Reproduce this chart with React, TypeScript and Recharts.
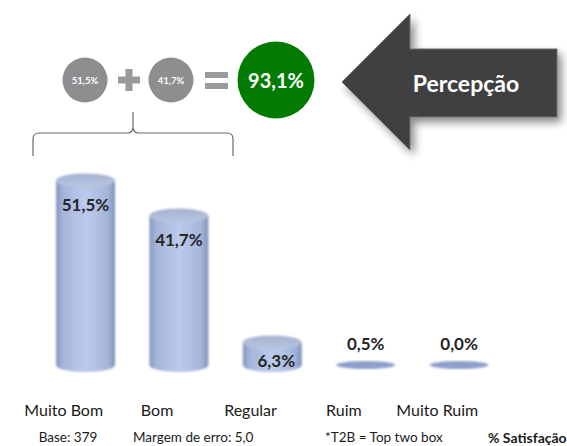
import React from 'react';
import { BarChart, Bar, XAxis, YAxis, LabelList } from 'recharts';

const categories = ['Muito Bom', 'Bom', 'Regular', 'Ruim', 'Muito Ruim'];
const values = [51.5, 41.7, 6.3, 0.5, 0.0];
const t2bParts = [51.5, 41.7];
const t2bTotal = 93.1;
const footerTexts = ['Base: 379', 'Margem de erro: 5,0', '*T2B = Top two box'];
const footerTitle = '% Satisfação';
const arrowText = 'Percepção';

const data = categories.map((c, i) => ({ name: c, value: values[i] }));

const W = 567;
const H = 446;
const FONT = 'Lato, "Open Sans", sans-serif';

const fmt = (v: number) => v.toFixed(1).replace('.', ',') + '%';

const Cylinder = (props: any) => {
  const { x, y, width, height, value } = props;
  const cx = x + width / 2;
  const rx = width / 2;
  if (value < 2) {
    const by = y + height;
    return (
      <ellipse cx={cx} cy={by} rx={rx} ry={4} fill="#8d9fcb" filter="url(#soft)" />
    );
  }
  const ry = 7;
  const top = y;
  const bot = y + height;
  const d = `M${x},${top} L${x},${bot} A${rx},${ry} 0 0 0 ${x + width},${bot} L${x + width},${top} Z`;
  return (
    <g filter="url(#soft)">
      <path d={d} fill="url(#cylBody)" />
      <ellipse cx={cx} cy={top} rx={rx} ry={ry} fill="url(#cylTop)" />
    </g>
  );
};

const ValueLabel = (props: any) => {
  const { x, y, width, height, value } = props;
  const cx = x + width / 2;
  const ly = value >= 2 ? y + Math.min(24, height * 0.8) : y - 20;
  const dx = value >= 2 && height < 40 ? 4 : 0;
  return (
    <text
      x={cx + dx}
      y={ly}
      textAnchor="middle"
      dominantBaseline="central"
      fontFamily={FONT}
      fontWeight={700}
      fontSize={17}
      fill="#262626"
    >
      {fmt(value)}
    </text>
  );
};

const CatTick = (props: any) => {
  const { x, y, payload } = props;
  return (
    <text
      x={x - 22}
      y={y + 36}
      textAnchor="middle"
      dominantBaseline="central"
      fontFamily={FONT}
      fontSize={16}
      fill="#1a1a1a"
    >
      {payload.value}
    </text>
  );
};

const Decor = () => {
  const c1 = { x: 85, y: 80, r: 22.5 };
  const c2 = { x: 171, y: 80, r: 22.5 };
  const g = { x: 276, y: 80, r: 38.5 };
  return (
    <svg width={W} height={H} style={{ position: 'absolute', left: 0, top: 0 }}>
      <defs>
        <filter id="arrowShadow" x="-20%" y="-20%" width="150%" height="150%">
          <feDropShadow dx="4" dy="5" stdDeviation="4" floodColor="#000" floodOpacity="0.45" />
        </filter>
      </defs>
      <circle cx={c1.x} cy={c1.y} r={c1.r} fill="#8e8e90" />
      <text x={c1.x} y={c1.y} textAnchor="middle" dominantBaseline="central" fontFamily={FONT} fontWeight={700} fontSize={9.5} fill="#fff">
        {fmt(t2bParts[0])}
      </text>
      <rect x={118} y={76.5} width={22} height={7} fill="#9a9a9c" />
      <rect x={125.5} y={69} width={7} height={22} fill="#9a9a9c" />
      <circle cx={c2.x} cy={c2.y} r={c2.r} fill="#8e8e90" />
      <text x={c2.x} y={c2.y} textAnchor="middle" dominantBaseline="central" fontFamily={FONT} fontWeight={700} fontSize={9.5} fill="#fff">
        {fmt(t2bParts[1])}
      </text>
      <rect x={205} y={72} width={23} height={6} fill="#9a9a9c" />
      <rect x={205} y={83} width={23} height={6} fill="#9a9a9c" />
      <circle cx={g.x} cy={g.y} r={g.r} fill="#037b03" />
      <text x={g.x} y={g.y} textAnchor="middle" dominantBaseline="central" fontFamily={FONT} fontWeight={700} fontSize={20} fill="#fff">
        {fmt(t2bTotal)}
      </text>
      <path
        d="M33,156 L33,139 Q33,133 39,133 L127,133 Q133,133 133,127 L133,112 M133,127 Q133,133 139,133 L227,133 Q233,133 233,139 L233,156"
        fill="none"
        stroke="#6a6a6a"
        strokeWidth={1.2}
      />
      <path
        d="M342,82 L410,14 L410,49 L557,49 L557,117 L410,117 L410,150 Z"
        fill="#404040"
        stroke="#6b6b6b"
        strokeWidth={1}
        filter="url(#arrowShadow)"
      />
      <text x={466} y={83} textAnchor="middle" dominantBaseline="central" fontFamily={FONT} fontWeight={700} fontSize={23} fill="#fff">
        {arrowText}
      </text>
      <text x={68} y={437} textAnchor="middle" dominantBaseline="central" fontFamily={FONT} fontSize={13.5} fill="#1a1a1a">
        {footerTexts[0]}
      </text>
      <text x={133} y={437} textAnchor="start" dominantBaseline="central" fontFamily={FONT} fontSize={13.5} fill="#1a1a1a">
        {footerTexts[1]}
      </text>
      <text x={325} y={437} textAnchor="start" dominantBaseline="central" fontFamily={FONT} fontSize={13.5} fill="#1a1a1a">
        {footerTexts[2]}
      </text>
      <text x={488} y={437} textAnchor="start" dominantBaseline="central" fontFamily={FONT} fontWeight={700} fontSize={14} fill="#1a1a1a">
        {footerTitle}
      </text>
    </svg>
  );
};

export default function App() {
  return (
    <div style={{ position: 'absolute', left: 0, top: 0, width: W, height: H, background: '#fff', overflow: 'hidden' }}>
      <Decor />
      <div style={{ position: 'absolute', left: 0, top: 0 }}>
        <BarChart width={W} height={H} data={data} margin={{ top: 150, right: 61, bottom: 51, left: 39 }}>
          <defs>
            <linearGradient id="cylBody" x1="0" y1="0" x2="1" y2="0">
              <stop offset="0%" stopColor="#8495bd" />
              <stop offset="12%" stopColor="#a5b5da" />
              <stop offset="50%" stopColor="#bccbec" />
              <stop offset="88%" stopColor="#a5b5da" />
              <stop offset="100%" stopColor="#8091ba" />
            </linearGradient>
            <linearGradient id="cylTop" x1="0" y1="0" x2="0" y2="1">
              <stop offset="0%" stopColor="#a5b2cf" />
              <stop offset="100%" stopColor="#b9c6e2" />
            </linearGradient>
            <filter id="soft" x="-10%" y="-10%" width="120%" height="120%">
              <feGaussianBlur stdDeviation="0.8" />
            </filter>
          </defs>
          <XAxis dataKey="name" axisLine={false} tickLine={false} height={30} tick={<CatTick />} interval={0} />
          <YAxis hide domain={[0, 60]} />
          <Bar dataKey="value" barSize={59} shape={<Cylinder />} minPointSize={2} isAnimationActive={false}>
            <LabelList dataKey="value" content={<ValueLabel />} />
          </Bar>
        </BarChart>
      </div>
    </div>
  );
}
